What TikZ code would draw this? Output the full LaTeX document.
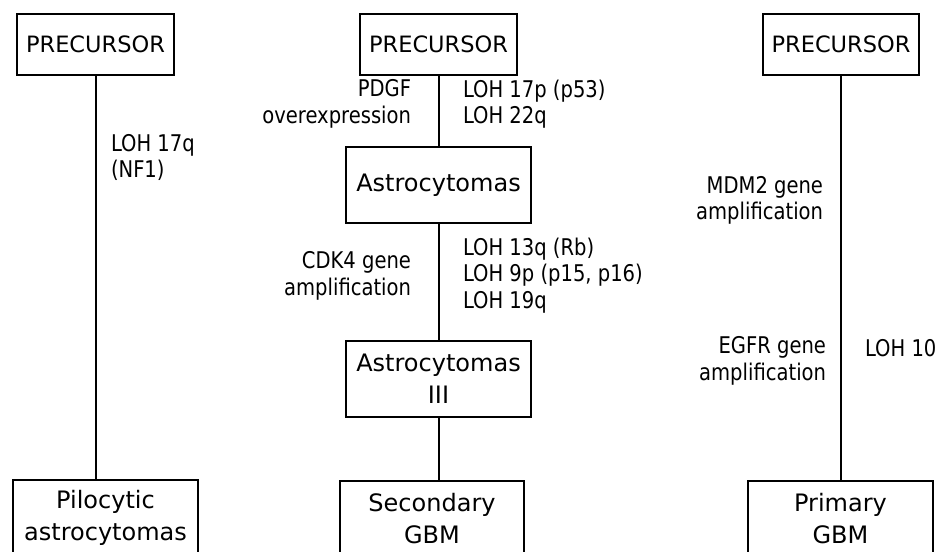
\documentclass[tikz,border=0pt]{standalone}
\usepackage{fontspec}
\setmainfont{DejaVu Sans}
\newfontfamily\lblfont[FakeStretch=0.85]{DejaVu Sans}
\begin{document}
\begin{tikzpicture}[x=1pt, y=-1pt, line width=2pt,
        box/.style={draw, align=center, inner sep=0pt, minimum height=76,
            font=\fontsize{24}{32}\selectfont},
        prebox/.style={box, minimum width=157, minimum height=61,
            font=\fontsize{22.5}{32}\selectfont},
        lbl/.style={inner sep=0pt, font=\lblfont\fontsize{23}{26.5}\selectfont}]
    \useasboundingbox (0,0) rectangle (936,551);
    \clip (0,0) rectangle (936,551);
    % left: pilocytic
    \node[prebox] (preL) at (95.5,44.5) {PRECURSOR};
    \node[box, minimum width=185] (pilo) at (105.5,518) {Pilocytic\\astrocytomas};
    \draw (preL.south) -- (preL.south |- pilo.north);
    \node[lbl, anchor=west, align=left] (nf) at (110,157.5) {LOH 17q\\(NF1)};
    % middle: secondary GBM
    \node[prebox] (preM) at (438.5,44.5) {PRECURSOR};
    \node[box, minimum width=185] (astro) at (438.5,185) {Astrocytomas};
    \node[box, minimum width=185] (astroIII) at (438.5,379) {Astrocytomas\\III};
    \node[box, minimum width=184] (sec) at (432,519) {Secondary\\GBM};
    \draw (preM) -- (astro);
    \draw (astro) -- (astroIII);
    \draw (astroIII.south) -- (astroIII.south |- sec.north);
    \node[lbl, anchor=east, align=right] (pdgf) at (412,104) {PDGF\\overexpression};
    \node[lbl, anchor=west, align=left] (loha) at (462,104) {LOH 17p (p53)\\LOH 22q};
    \node[lbl, anchor=east, align=right] (cdk) at (412,276) {CDK4 gene\\amplification};
    \node[lbl, anchor=west, align=left] (lohb) at (462,275.5) {LOH 13q (Rb)\\LOH 9p (p15, p16)\\LOH 19q};
    % right: primary GBM
    \node[prebox, minimum width=156] (preR) at (841,44.5) {PRECURSOR};
    \node[box, minimum width=185] (pri) at (840.5,519) {Primary\\GBM};
    \draw (preR.south) -- (preR.south |- pri.north);
    \node[lbl, anchor=east, align=right] (mdm) at (824,200.5) {MDM2 gene\\amplification};
    \node[lbl, anchor=east, align=right] (egfr) at (827,361) {EGFR gene\\amplification};
    \node[lbl, anchor=west] (loh10) at (864,348) {LOH 10};
\end{tikzpicture}
\end{document}
